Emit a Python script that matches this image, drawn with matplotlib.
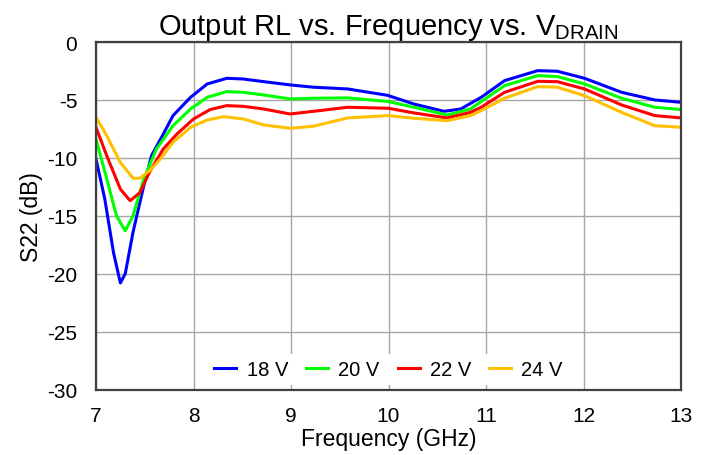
import matplotlib
matplotlib.use("Agg")
import matplotlib.pyplot as plt

plt.rcParams['font.family'] = ['Liberation Sans', 'DejaVu Sans']
plt.rcParams['mathtext.fontset'] = 'custom'
plt.rcParams['mathtext.rm'] = 'Liberation Sans'
plt.rcParams['axes.unicode_minus'] = False

# S22 traces for each drain voltage (frequency in GHz, return loss in dB)
freq_18v = [7.0, 7.09, 7.18, 7.25, 7.30, 7.38, 7.49, 7.57, 7.68, 7.79, 7.97, 8.14, 8.34, 8.51, 8.72,
            8.99, 9.23, 9.58, 9.99, 10.26, 10.57, 10.74, 10.84, 10.95, 11.19, 11.53, 11.73, 12.01,
            12.39, 12.73, 13.0]
s22_18v = [-10.1, -13.55, -18.2, -20.8, -20.0, -16.4, -12.4, -9.8, -8.1, -6.35, -4.77, -3.62, -3.13,
           -3.19, -3.42, -3.7, -3.9, -4.05, -4.6, -5.35, -5.98, -5.78, -5.3, -4.77, -3.33, -2.47,
           -2.52, -3.13, -4.34, -5.0, -5.2]

freq_20v = [7.0, 7.11, 7.21, 7.30, 7.38, 7.49, 7.62, 7.79, 7.97, 8.14, 8.34, 8.51, 8.72, 8.99, 9.23,
            9.58, 10.0, 10.26, 10.6, 10.84, 10.95, 11.19, 11.53, 11.73, 12.01, 12.39, 12.73, 13.0]
s22_20v = [-8.37, -11.8, -15.0, -16.3, -15.0, -11.8, -9.23, -7.22, -5.78, -4.77, -4.28, -4.34, -4.57,
           -4.91, -4.85, -4.82, -5.14, -5.63, -6.3, -5.78, -5.14, -3.76, -2.9, -2.98, -3.62, -4.85,
           -5.63, -5.83]

freq_22v = [7.0, 7.11, 7.25, 7.35, 7.45, 7.55, 7.69, 7.83, 8.0, 8.17, 8.34, 8.51, 8.72, 8.99, 9.23,
            9.58, 10.0, 10.26, 10.6, 10.84, 10.95, 11.19, 11.53, 11.73, 12.01, 12.39, 12.73, 13.0]
s22_22v = [-7.36, -9.81, -12.7, -13.7, -13.0, -11.2, -9.23, -7.94, -6.64, -5.83, -5.49, -5.55, -5.78,
           -6.21, -5.98, -5.63, -5.72, -6.12, -6.55, -6.07, -5.63, -4.34, -3.39, -3.42, -4.05, -5.43,
           -6.35, -6.55]

freq_24v = [7.0, 7.11, 7.25, 7.38, 7.45, 7.55, 7.66, 7.79, 7.97, 8.14, 8.31, 8.51, 8.72, 8.99, 9.23,
            9.58, 10.0, 10.26, 10.6, 10.84, 10.95, 11.19, 11.53, 11.73, 12.01, 12.39, 12.73, 13.0]
s22_24v = [-6.5, -8.08, -10.4, -11.76, -11.76, -11.1, -10.1, -8.65, -7.36, -6.73, -6.44, -6.64, -7.16,
           -7.44, -7.27, -6.55, -6.35, -6.58, -6.79, -6.35, -5.92, -4.85, -3.85, -3.9, -4.63, -6.07,
           -7.22, -7.36]

labels = ["18 V", "20 V", "22 V", "24 V"]
colors = ["#0000ff", "#00ff00", "#ff0000", "#ffc000"]
x_ticks = [7, 8, 9, 10, 11, 12, 13]
y_ticks = [0, -5, -10, -15, -20, -25, -30]

fig = plt.figure(figsize=(7.08, 4.56), dpi=100)
ax = fig.add_axes([0.1356, 0.1436, 0.8264, 0.762])

series = [(freq_18v, s22_18v), (freq_20v, s22_20v), (freq_22v, s22_22v), (freq_24v, s22_24v)]
for (f, s), lab, c in zip(series, labels, colors):
    ax.plot(f, s, color=c, linewidth=2.2, label=lab)

ax.set_xlim(7, 13)
ax.set_ylim(-30, 0)
ax.set_xticks(x_ticks)
ax.set_yticks(y_ticks)
ax.grid(True, color="#a6a6a6", linewidth=1.0)
ax.set_axisbelow(True)
ax.tick_params(length=0, labelsize=15, colors="black")
ax.tick_params(axis="x", pad=12)
ax.tick_params(axis="y", pad=13.5)
for sp in ax.spines.values():
    sp.set_color("#404040")
    sp.set_linewidth(1.6)

ax.set_xlabel("Frequency (GHz)", fontsize=16.5, labelpad=1)
ax.set_ylabel("S22 (dB)", fontsize=16.5, labelpad=3)
ax.set_title(r"Output RL vs. Frequency vs. V$_{\mathrm{DRAIN}}$", fontsize=21, pad=4)

leg = ax.legend(loc="lower center", ncol=4, frameon=True, fontsize=14.5, handlelength=1.1,
                handletextpad=0.5, columnspacing=0.9, borderaxespad=0.2, borderpad=0.3,
                fancybox=False)
leg.get_frame().set_edgecolor("none")
leg.get_frame().set_facecolor("white")
leg.get_frame().set_alpha(1.0)

fig.savefig("out.png", dpi=100)
